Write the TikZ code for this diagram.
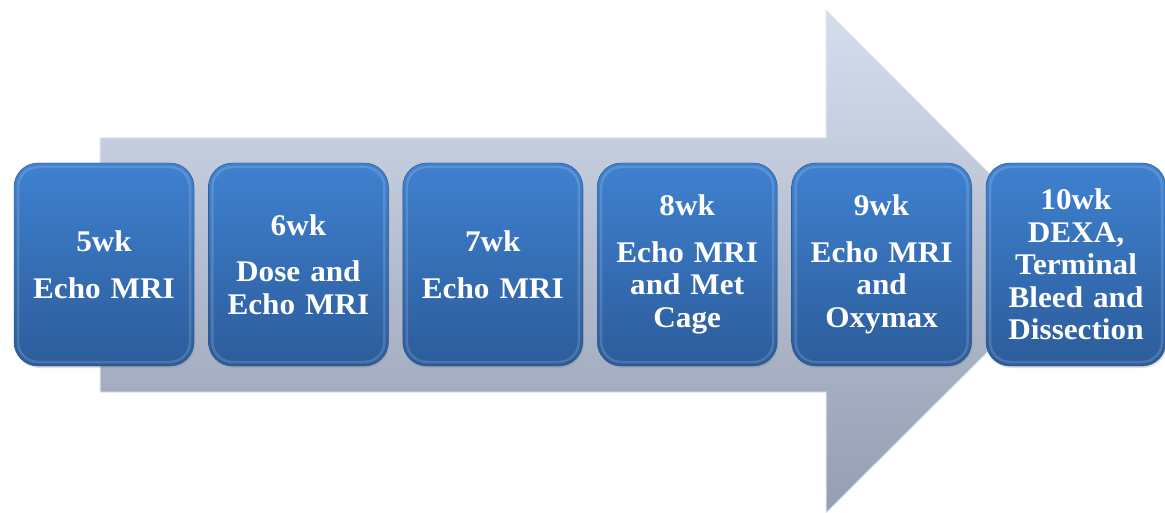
\documentclass[tikz,border=0pt]{standalone}
\usepackage{fontspec}
\setmainfont{Liberation Serif}[FakeStretch=1.04]
\usetikzlibrary{positioning, shadows}
\definecolor{arrowtop}{RGB}{214,222,238}
\definecolor{arrowbottom}{RGB}{148,158,178}
\definecolor{arrowedge}{RGB}{222,229,242}
\definecolor{stagetop}{RGB}{63,129,208}
\definecolor{stagebottom}{RGB}{44,92,154}
\definecolor{stageline}{RGB}{38,82,138}

\begin{document}
\begin{tikzpicture}[
    x=1pt, y=-1pt,
    node distance=14pt,
    stage/.style={draw=stageline, top color=stagetop, bottom color=stagebottom, rounded corners=24pt, minimum width=180pt, minimum height=203pt, text width=176pt, inner sep=0pt, align=center, text=white, font=\fontsize{30}{32.5}\selectfont\bfseries,
        drop shadow={opacity=0.25, shadow xshift=1pt, shadow yshift=-2pt},
        path picture={\draw[white, opacity=0.15, line width=2.5pt, rounded corners=20pt] ([shift={(4pt,-4pt)}]path picture bounding box.north west) rectangle ([shift={(-4pt,4pt)}]path picture bounding box.south east);}},
    timeline/.style={top color=arrowtop, bottom color=arrowbottom, draw=arrowedge, line width=1pt}
]
\useasboundingbox (0,0) rectangle (1165,513);

% big timeline arrow behind the stages
\path[timeline] (100,138) -- (826,138) -- (826,10) -- (1078,262) -- (826,513) -- (826,392) -- (100,392) -- cycle;

\node[stage] (w5) at (104,264.5) {5wk\\[14pt]Echo MRI};
\node[stage, right=of w5] (w6) {6wk\\[14pt]Dose and\\Echo MRI};
\node[stage, right=of w6] (w7) {7wk\\[14pt]Echo MRI};
\node[stage, right=of w7] (w8) {8wk\\[14pt]Echo MRI\\and Met\\Cage};
\node[stage, right=of w8] (w9) {9wk\\[14pt]Echo MRI\\and\\Oxymax};
\node[stage, right=of w9] (w10) {10wk\\DEXA,\\Terminal\\Bleed and\\Dissection};
\end{tikzpicture}
\end{document}
